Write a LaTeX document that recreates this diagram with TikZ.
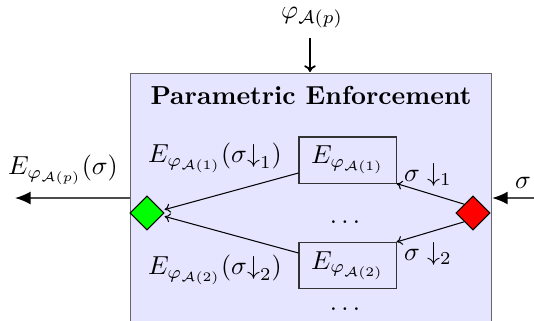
\documentclass[tikz,border=0pt]{standalone}
\usetikzlibrary{shapes.geometric,arrows.meta}
\begin{document}
\begin{tikzpicture}[x=0.3844pt,y=-0.3844pt,
  enfbox/.style={draw=black!80, fill=blue!10, minimum width=37.3pt, minimum height=17.7pt, inner sep=0pt},
  merge/.style={diamond, draw=black, inner sep=0pt, minimum width=13.1pt, minimum height=13.1pt},
  thin arrow/.style={-{To[length=2.2pt,width=3.5pt]}, draw=black, line width=0.4pt},
  io arrow/.style={-{Latex[length=6pt,width=5pt,color=black]}, draw=black!70, line width=0.7pt},
  lbl/.style={inner sep=1pt}]
\useasboundingbox (0,0) rectangle (534,320);
% outer box
\node[draw=black!60, fill=blue!10, anchor=north west, minimum width=138.8pt, minimum height=110pt, inner sep=0pt] (outer) at (130,73) {};
\node[lbl] (title) at (311,95) {\textbf{Parametric Enforcement}};
% top input
\node[lbl] (phi) at (312,18) {$\varphi_{\mathcal{A}(p)}$};
\coordinate (topin) at (310,72);
\draw[-{To[length=2.6pt,width=4.5pt]}, line width=0.7pt] (310,38) -- (topin);
% inner boxes
\node[enfbox] (e1) at (347.5,160) {$E_{\varphi_{\mathcal{A}(1)}}$};
\node[enfbox] (e2) at (347.5,265.5) {$E_{\varphi_{\mathcal{A}(2)}}$};
\node[lbl] (d1) at (345,222) {$\dots$};
\node[lbl] (d2) at (345,309) {$\dots$};
% diamonds
\node[merge, fill=green] (g) at (147,213) {};
\node[merge, fill=red] (r) at (473,213) {};
% labels
\node[lbl] (l1) at (215,158) {$E_{\varphi_{\mathcal{A}(1)}}(\sigma{\downarrow}_1)$};
\node[lbl] (l2) at (215,270) {$E_{\varphi_{\mathcal{A}(2)}}(\sigma{\downarrow}_2)$};
\node[lbl] (s1) at (428,175) {$\sigma\downarrow_1$};
\node[lbl] (s2) at (428,254) {$\sigma\downarrow_2$};
% internal connectors
\draw[thin arrow] (r.north west) -- (e1.south east);
\draw[thin arrow] (r.south west) -- (e2.north east);
\draw[thin arrow] (e1.west |- 0,173) -- ([yshift=1.3pt]g.east);
\draw[thin arrow] (e2.west |- 0,253) -- ([yshift=-1.3pt]g.east);
% outer io
\coordinate (outL) at (15,198);
\coordinate (inR) at (534,198);
\draw[io arrow] (outer.west |- 0,198) -- (outL);
\draw[io arrow] (inR) -- (outer.east |- 0,198);
\node[lbl] (out lbl) at (63,170) {$E_{\varphi_{\mathcal{A}(p)}}(\sigma)$};
\node[lbl, anchor=west] (in lbl) at (512,183) {$\sigma$};
\end{tikzpicture}
\end{document}
